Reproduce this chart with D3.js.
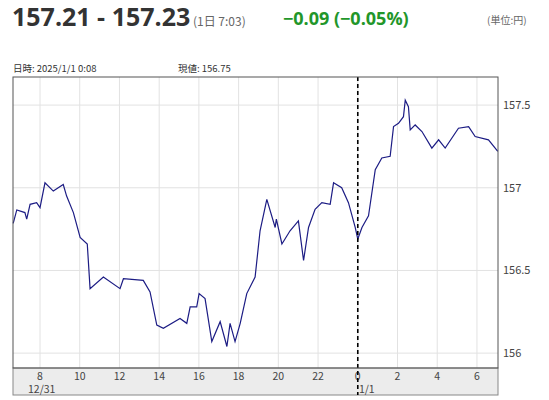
<!DOCTYPE html>
<html><head><meta charset="utf-8">
<script src="https://cdn.jsdelivr.net/npm/d3@7"></script>
<style>body{margin:0;background:#fff;font-family:"Noto Sans CJK JP","Noto Sans",sans-serif}</style>
</head><body><svg id="c" width="549" height="400"></svg>
<script>
// hours since 12/31 0:00
const hours = [6.65,6.83,7.24,7.33,7.5,7.83,8.0,8.25,8.67,9.17,9.34,9.68,10.02,10.38,10.52,11.19,12.03,12.2,13.2,13.54,13.88,14.21,15.05,15.39,15.56,15.89,16.01,16.31,16.65,17.07,17.41,17.57,17.82,18.08,18.41,18.83,19.08,19.42,19.84,19.9,20.18,20.59,21.01,21.27,21.52,21.85,22.19,22.61,22.78,23.19,23.53,23.87,24.0,24.21,24.54,24.88,25.21,25.63,25.8,26.05,26.3,26.39,26.55,26.64,26.89,27.23,27.73,28.07,28.4,29.07,29.58,29.91,30.58,31.05];
const prices = [156.785,156.866,156.85,156.81,156.90,156.91,156.88,157.03,156.98,157.02,156.95,156.85,156.70,156.66,156.39,156.46,156.39,156.45,156.44,156.37,156.17,156.15,156.21,156.18,156.28,156.28,156.36,156.33,156.07,156.19,156.04,156.18,156.07,156.18,156.36,156.46,156.74,156.93,156.76,156.81,156.66,156.74,156.80,156.56,156.76,156.87,156.91,156.90,157.03,157.00,156.91,156.76,156.69,156.76,156.83,157.11,157.18,157.19,157.37,157.39,157.43,157.53,157.49,157.35,157.38,157.34,157.24,157.29,157.24,157.36,157.37,157.31,157.29,157.22];
const xTicks = [8,10,12,14,16,18,20,22,24,26,28,30];
const xTickLabels = ["8","10","12","14","16","18","20","22","0","2","4","6"];
const yTicks = [156,156.5,157,157.5];
const yTickLabels = ["156","156.5","157","157.5"];

const svg = d3.select("#c");
const L=13,R=498,T=77,B=368;
const x = d3.scaleLinear().domain([6.64,31.06]).range([L,R]);
const y = d3.scaleLinear().domain([155.91,157.67]).range([B,T]);

// header
const h = svg.append("text").attr("x",12).attr("y",26);
h.append("tspan").text("157.21 - 157.23").attr("font-size",25).attr("font-weight","bold").attr("fill","#333").attr("font-family","Open Sans");
h.append("tspan").text(" (1日 7:03)").attr("font-size",12).attr("fill","#666");
svg.append("text").attr("x",283).attr("y",25).text("−0.09 (−0.05%)").attr("font-size",18).attr("font-weight","bold").attr("fill","#22962a").attr("font-family","Open Sans");
svg.append("text").attr("x",487).attr("y",24).text("(単位:円)").attr("font-size",10).attr("fill","#666");
svg.append("text").attr("x",13).attr("y",72).text("日時: 2025/1/1  0:08").attr("font-size",9.5).attr("fill","#333");
svg.append("text").attr("x",178).attr("y",72).text("現値: 156.75").attr("font-size",9.5).attr("fill","#333");

// grid
svg.append("g").selectAll("line").data(xTicks).join("line")
 .attr("x1",d=>x(d)).attr("x2",d=>x(d)).attr("y1",T).attr("y2",B).attr("stroke","#e2e2e2");
svg.append("g").selectAll("line").data(yTicks).join("line")
 .attr("x1",L).attr("x2",R).attr("y1",d=>y(d)).attr("y2",d=>y(d)).attr("stroke","#e2e2e2");

// axis band
svg.append("rect").attr("x",L).attr("y",B).attr("width",R-L).attr("height",27).attr("fill","#ececec").attr("stroke","#888");
svg.append("g").selectAll("text").data(xTicks).join("text")
 .attr("x",d=>x(d)).attr("y",380).attr("text-anchor","middle").attr("font-size",10.5).attr("fill","#444")
 .text((d,i)=>xTickLabels[i]);
svg.append("text").attr("x",x(8)-12).attr("y",393).attr("font-size",10.5).attr("fill","#444").text("12/31");
svg.append("text").attr("x",x(24)+9).attr("y",393).attr("text-anchor","middle").attr("font-size",10.5).attr("fill","#444").text("1/1");

// y labels
svg.append("g").selectAll("text").data(yTicks).join("text")
 .attr("x",503).attr("y",d=>y(d)+4).attr("font-size",11).attr("fill","#444")
 .text((d,i)=>yTickLabels[i]);

// line
const data = hours.map((t,i)=>[t,prices[i]]);
svg.append("path").datum(data).attr("fill","none").attr("stroke","#1c1c84").attr("stroke-width",1.2)
 .attr("d",d3.line().x(d=>x(d[0])).y(d=>y(d[1])));

// day divider
svg.append("line").attr("x1",x(24)).attr("x2",x(24)).attr("y1",T).attr("y2",B+27)
 .attr("stroke","#000").attr("stroke-width",1.6).attr("stroke-dasharray","4,3");

// frame
svg.append("rect").attr("x",L).attr("y",T).attr("width",R-L).attr("height",B-T).attr("fill","none").attr("stroke","#555");
</script></body></html>
